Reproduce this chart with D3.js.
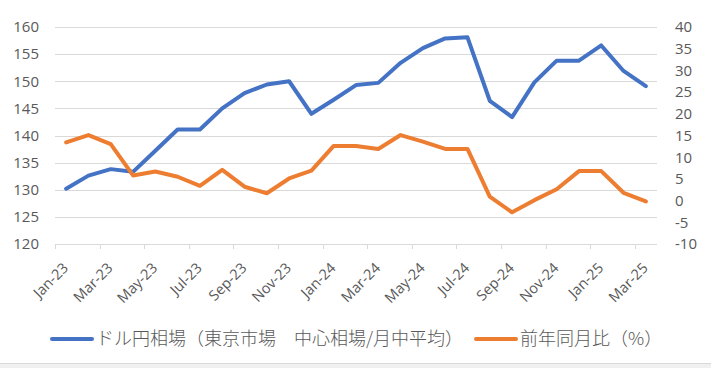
<!DOCTYPE html>
<html><head><meta charset="utf-8">
<script src="https://cdn.jsdelivr.net/npm/d3@7"></script>
<style>
html,body{margin:0;padding:0;background:#fff;}
svg{display:block;}
text{font-family:"Open Sans","Noto Sans CJK JP",sans-serif;fill:#595959;}
</style></head>
<body>
<svg id="chart" width="711" height="368"></svg>
<script>
const months = ["Jan-23","Feb-23","Mar-23","Apr-23","May-23","Jun-23","Jul-23","Aug-23","Sep-23","Oct-23","Nov-23","Dec-23",
"Jan-24","Feb-24","Mar-24","Apr-24","May-24","Jun-24","Jul-24","Aug-24","Sep-24","Oct-24","Nov-24","Dec-24",
"Jan-25","Feb-25","Mar-25"];
const usdJpy = [130.2,132.6,133.8,133.3,137.2,141.1,141.1,145.0,147.8,149.4,150.0,144.0,
146.6,149.3,149.7,153.4,156.1,157.9,158.1,146.4,143.4,149.8,153.8,153.8,156.6,151.9,149.1];
const yoy = [13.4,15.1,13.0,5.8,6.7,5.5,3.4,7.1,3.2,1.7,5.1,6.9,
12.6,12.6,11.9,15.1,13.6,11.9,11.9,0.9,-2.7,0.1,2.6,6.8,6.8,1.8,-0.2];
const leftTicks = [120,125,130,135,140,145,150,155,160];
const rightTicks = [-10,-5,0,5,10,15,20,25,30,35,40];
const seriesNames = ["ドル円相場（東京市場　中心相場/月中平均）","前年同月比（%）"];
const colors = ["#4472C4","#ED7D31"];

const svg = d3.select("#chart");
const L = 55, R = 657, T = 27, B = 244;

// frame bottom
svg.append("rect").attr("x",0).attr("y",363).attr("width",711).attr("height",5).attr("fill","#f0f0f0");
svg.append("line").attr("x1",0).attr("x2",711).attr("y1",363.5).attr("y2",363.5).attr("stroke","#d9d9d9");

const x = d3.scaleBand().domain(months).range([L,R]);
const yL = d3.scaleLinear().domain([120,160]).range([B,T]);
const yR = d3.scaleLinear().domain([-10,40]).range([B,T]);

// gridlines
svg.append("g").selectAll("line").data(leftTicks.filter(d=>d!==120)).join("line")
  .attr("x1",L).attr("x2",R).attr("y1",d=>Math.round(yL(d))+0.5).attr("y2",d=>Math.round(yL(d))+0.5)
  .attr("stroke","#d9d9d9").attr("stroke-width",1);

// left axis
const gl = svg.append("g").attr("transform",`translate(${L},0)`)
  .call(d3.axisLeft(yL).tickValues(leftTicks).tickSize(0).tickPadding(16).tickFormat(d=>String(d)));
gl.select(".domain").remove();
gl.selectAll("text").style("font-size","15px").attr("fill","#595959");

// right axis
const gr = svg.append("g").attr("transform",`translate(${R},0)`)
  .call(d3.axisRight(yR).tickValues(rightTicks).tickSize(0).tickPadding(18).tickFormat(d=>String(d)));
gr.select(".domain").remove();
gr.selectAll("text").style("font-size","15px").attr("fill","#595959");

// x axis
const ax = svg.append("g");
ax.append("line").attr("x1",L).attr("x2",R).attr("y1",B+0.5).attr("y2",B+0.5).attr("stroke","#d9d9d9");
const tickIdx = d3.range(0, months.length+1, 2);
ax.selectAll("line.tk").data(tickIdx).join("line").attr("class","tk")
  .attr("x1",i=>Math.round(i<months.length? x(months[i]) : R)+0.5)
  .attr("x2",i=>Math.round(i<months.length? x(months[i]) : R)+0.5)
  .attr("y1",B).attr("y2",B+5).attr("stroke","#d9d9d9");
const labelMonths = months.filter((d,i)=>i%2===0);
ax.selectAll("text").data(labelMonths).join("text")
  .attr("transform",d=>`translate(${x(d)+x.bandwidth()/2+3},${B+25}) rotate(-45)`)
  .attr("text-anchor","end").style("font-size","14.5px").text(d=>d);

// lines
const lineL = d3.line().x((d,i)=>x(months[i])+x.bandwidth()/2).y(d=>yL(d));
const lineR = d3.line().x((d,i)=>x(months[i])+x.bandwidth()/2).y(d=>yR(d));
svg.append("path").datum(usdJpy).attr("d",lineL).attr("fill","none")
  .attr("stroke",colors[0]).attr("stroke-width",4).attr("stroke-linejoin","round").attr("stroke-linecap","round");
svg.append("path").datum(yoy).attr("d",lineR).attr("fill","none")
  .attr("stroke",colors[1]).attr("stroke-width",4).attr("stroke-linejoin","round").attr("stroke-linecap","round");

// legend
const lg = svg.append("g");
const legX = [52,476];
seriesNames.forEach((n,i)=>{
  lg.append("line").attr("x1",legX[i]).attr("x2",legX[i]+40).attr("y1",339).attr("y2",339)
    .attr("stroke",colors[i]).attr("stroke-width",4).attr("stroke-linecap","round");
  lg.append("text").attr("x",legX[i]+44).attr("y",345).style("font-size","18px")
    .style("font-family","'Noto Sans CJK JP',sans-serif").style("font-weight","300").text(n);
});
</script>
</body></html>
